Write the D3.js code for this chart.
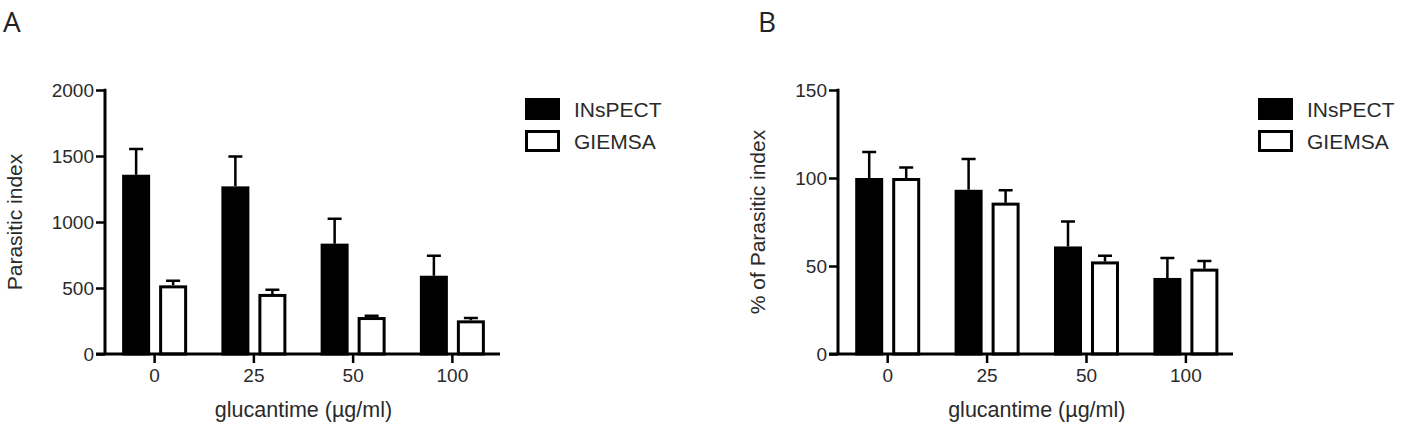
<!DOCTYPE html>
<html>
<head>
<meta charset="utf-8">
<script src="https://cdn.jsdelivr.net/npm/d3@7"></script>
<style>
  body { margin: 0; background: #fff; }
  svg text { font-family: "Liberation Sans", Arial, sans-serif; fill: #2a2a2a; }
  .panel-letter { font-family: "Open Sans", sans-serif; font-size: 28px; fill: #222; }
</style>
</head>
<body>
<div id="chart"></div>
<script>
// categories and series
const categories = ["0", "25", "50", "100"];
const series = ["INsPECT", "GIEMSA"];

// panel A: parasitic index (mean + error)
const inspectA = [1358, 1270, 836, 593];
const inspectAErr = [195, 227, 189, 152];
const giemsaA = [520, 455, 280, 255];
const giemsaAErr = [35, 32, 10, 17];
const ticksA = [0, 500, 1000, 1500, 2000];

// panel B: % of parasitic index
const inspectB = [100, 93.3, 61.1, 43.2];
const inspectBErr = [14.8, 17.5, 14.2, 11.3];
const giemsaB = [100, 86, 52.6, 48.5];
const giemsaBErr = [6, 7, 3.2, 4.3];
const ticksB = [0, 50, 100, 150];

const xLabel = "glucantime (µg/ml)";

const svg = d3.select("#chart").append("svg")
    .attr("width", 1410)
    .attr("height", 429);

function drawPanel(p) {
    const top = 90, bottom = 354;
    let g = svg.append("g");

    // panel letter
    g.append("text").attr("class", "panel-letter")
        .attr("x", p.letterX).attr("y", 32).text(p.letter);

    let x = d3.scaleBand().domain(categories).range([p.left, p.right]);
    // bars inside a group: outer width 28, gap 9
    let x1 = d3.scaleBand().domain(series).range([-32.5, 32.5]).paddingInner(9 / 37);
    let y = d3.scaleLinear().domain([0, p.max]).range([bottom, top]);

    let data = [];
    categories.forEach((c, i) => {
        data.push({cat: c, s: series[0], v: p.vals[0][i], e: p.errs[0][i], fill: "#000"});
        data.push({cat: c, s: series[1], v: p.vals[1][i], e: p.errs[1][i], fill: "#fff"});
    });

    // error bars (upper only)
    let cx = d => x(d.cat) + x.bandwidth() / 2 + x1(d.s) + x1.bandwidth() / 2;
    g.selectAll(".err").data(data).enter().append("path")
        .attr("class", "err")
        .attr("d", d => "M" + cx(d) + "," + y(d.v) + "V" + y(d.v + d.e)
            + "M" + (cx(d) - 7) + "," + y(d.v + d.e) + "H" + (cx(d) + 7))
        .attr("stroke", "#000").attr("stroke-width", 2.5).attr("fill", "none");

    // bars
    g.selectAll(".bar").data(data).enter().append("rect")
        .attr("class", "bar")
        .attr("x", d => x(d.cat) + x.bandwidth() / 2 + x1(d.s) + 1.5)
        .attr("width", x1.bandwidth() - 3)
        .attr("y", d => y(d.v) + 1.5)
        .attr("height", d => bottom - y(d.v) - 1.5)
        .attr("fill", d => d.fill)
        .attr("stroke", "#000").attr("stroke-width", 3);

    // y axis
    let yAxis = g.append("g")
        .attr("transform", "translate(" + p.left + ",0)")
        .call(d3.axisLeft(y).tickValues(p.ticks).tickFormat(d3.format("d"))
            .tickSize(9).tickPadding(2).tickSizeOuter(0));
    yAxis.select(".domain").attr("stroke-width", 3).attr("d", "M0," + (top - 1.2) + "V" + bottom);
    yAxis.selectAll(".tick line").attr("stroke-width", 2.5);
    yAxis.selectAll("text").style("font-size", "19px").attr("fill", "#2a2a2a");

    // x axis
    let xAxis = g.append("g")
        .attr("transform", "translate(0," + bottom + ")")
        .call(d3.axisBottom(x).tickSize(9).tickPadding(6).tickSizeOuter(0));
    xAxis.select(".domain").attr("stroke-width", 3).attr("d", "M" + (p.left - 9) + ",0H" + p.axisEnd);
    xAxis.selectAll(".tick line").attr("stroke-width", 2.5);
    xAxis.selectAll("text").style("font-size", "19px").attr("fill", "#2a2a2a");

    // axis titles
    g.append("text")
        .attr("transform", "translate(" + p.yLabelX + "," + ((top + bottom) / 2) + ") rotate(-90)")
        .attr("text-anchor", "middle")
        .style("font-size", "21px")
        .text(p.yLabel);
    g.append("text")
        .attr("x", x(categories[0]) / 2 + (x(categories[3]) + x.bandwidth()) / 2)
        .attr("y", 417)
        .attr("text-anchor", "middle")
        .style("font-size", "21.5px")
        .text(xLabel);

    // legend
    let leg = g.selectAll(".legend").data(series).enter().append("g")
        .attr("class", "legend")
        .attr("transform", (d, i) => "translate(" + p.legendX + "," + (98 + i * 32) + ")");
    leg.append("rect")
        .attr("x", 1.5).attr("y", 1.5).attr("width", 32).attr("height", 19)
        .attr("fill", (d, i) => i === 0 ? "#000" : "#fff")
        .attr("stroke", "#000").attr("stroke-width", 3);
    leg.append("text")
        .attr("x", 49).attr("y", 18.5)
        .style("font-size", "21px")
        .text(d => d);
}

drawPanel({
    letter: "A", letterX: 3, left: 105, right: 502, axisEnd: 500, max: 2000,
    ticks: ticksA, vals: [inspectA, giemsaA], errs: [inspectAErr, giemsaAErr],
    yLabel: "Parasitic index", yLabelX: 22, legendX: 525
});
drawPanel({
    letter: "B", letterX: 758, left: 838, right: 1235.6, axisEnd: 1233, max: 150,
    ticks: ticksB, vals: [inspectB, giemsaB], errs: [inspectBErr, giemsaBErr],
    yLabel: "% of Parasitic index", yLabelX: 765, legendX: 1258
});
</script>
</body>
</html>
